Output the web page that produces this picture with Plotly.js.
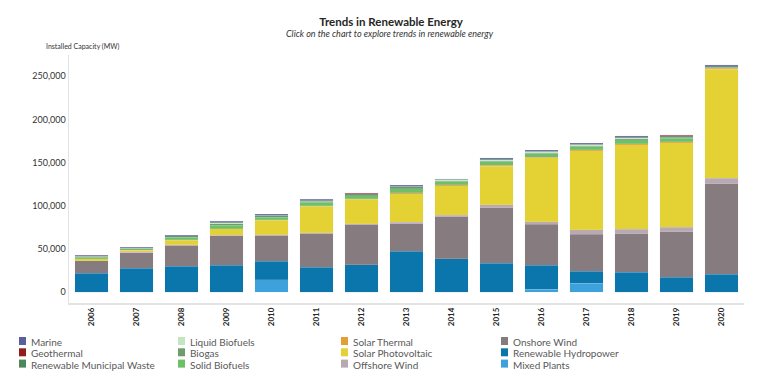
<!DOCTYPE html>
<html>
<head>
<meta charset="utf-8">
<script src="https://cdn.plot.ly/plotly-3.0.1.min.js"></script>
<style>html,body{margin:0;padding:0;background:#fff;}#chart{width:764px;height:389px;}</style>
</head>
<body>
<div id="chart"></div>
<script>
// ---- Data (MW) ----
const years = ['2006','2007','2008','2009','2010','2011','2012','2013','2014','2015','2016','2017','2018','2019','2020'];

const mixedPlants   = [0,0,0,0,14200,0,0,0,0,0,3500,10400,0,0,0];
const hydropower    = [22000,27800,30100,30800,21200,28900,31600,47000,38500,33600,27300,13400,22700,16900,20800];
const onshoreWind   = [14200,17700,23800,34300,30100,38600,46300,32400,49000,64300,47900,43300,44800,53200,104500];
const offshoreWind  = [300,500,600,800,800,1000,1200,1200,1300,3500,3000,5000,5400,5100,6600];
const solarPV       = [1800,2400,5600,7200,17100,31000,28400,33400,34500,44600,73600,91600,97600,97700,126200];
const solarThermal  = [200,200,400,500,600,700,800,900,900,1000,1000,1000,1100,1100,1200];
const solidBiofuels = [2000,1500,2700,4000,2500,3800,3500,4700,4000,4300,4300,4000,5000,4400,800];
const biogas        = [700,400,800,1800,600,900,800,1100,1000,1000,1000,1000,1200,1000,600];
const liquidBiofuels= [200,200,200,300,300,300,300,300,300,300,300,300,300,300,300];
const municipalWaste= [600,700,900,1200,1500,1200,1000,1400,1000,1200,1200,1300,1400,1200,1200];
const geothermal    = [300,200,300,300,300,300,300,300,300,700,200,200,200,700,200];
const marine        = [500,500,600,900,1100,900,700,1100,700,900,1000,1000,1200,600,1000];

const yTicks = [0,50000,100000,150000,200000,250000];

// stacking order bottom -> top
const series = [
  {name:'Mixed Plants', y:mixedPlants, color:'#3da2db'},
  {name:'Renewable Hydropower', y:hydropower, color:'#0a76ab'},
  {name:'Onshore Wind', y:onshoreWind, color:'#867b7f'},
  {name:'Offshore Wind', y:offshoreWind, color:'#b9a9b0'},
  {name:'Solar Photovoltaic', y:solarPV, color:'#e4d133'},
  {name:'Solar Thermal', y:solarThermal, color:'#e39e36'},
  {name:'Solid Biofuels', y:solidBiofuels, color:'#6dbf68'},
  {name:'Biogas', y:biogas, color:'#6e9c6b'},
  {name:'Liquid Biofuels', y:liquidBiofuels, color:'#c5e4c0'},
  {name:'Renewable Municipal Waste', y:municipalWaste, color:'#4e8759'},
  {name:'Geothermal', y:geothermal, color:'#951c1c'},
  {name:'Marine', y:marine, color:'#5a5f9c'}
];

// legend layout (column-wise, as in reference)
const legendColumns = [
  ['Marine','Geothermal','Renewable Municipal Waste'],
  ['Liquid Biofuels','Biogas','Solid Biofuels'],
  ['Solar Thermal','Solar Photovoltaic','Offshore Wind'],
  ['Onshore Wind','Renewable Hydropower','Mixed Plants']
];

const FONT = 'Lato, "Open Sans", sans-serif';

const traces = series.map(s => ({
  type:'bar', name:s.name, x:years, y:s.y,
  marker:{color:s.color, line:{color:'rgba(225,220,238,0.6)', width:0.3}},
  showlegend:false,
  hovertemplate:'%{x}<br>'+s.name+': %{y:,} MW<extra></extra>'
}));

// plot area in pixels
const W=764, H=389, L=69, R=20, T=55, B=86;
const pw = W-L-R, ph = H-T-B;
const px2x = p => (p-L)/pw;
const py2y = p => (H-B-p)/ph;

const colX = [19,178,341,501];
const rowY = [341,352.3,363.6];
const shapes = [];
const annotations = [];
legendColumns.forEach((col,ci)=>{
  col.forEach((nm,ri)=>{
    const s = series.find(d=>d.name===nm);
    shapes.push({type:'rect', xref:'paper', yref:'paper',
      x0:px2x(colX[ci]), x1:px2x(colX[ci]+7),
      y0:py2y(rowY[ri]+4), y1:py2y(rowY[ri]-4),
      fillcolor:s.color, line:{width:0}});
    annotations.push({xref:'paper', yref:'paper', x:px2x(colX[ci]+10), y:py2y(rowY[ri]+1),
      xanchor:'left', yanchor:'middle', showarrow:false, text:nm,
      font:{family:FONT, size:10, color:'#595959'}});
  });
});

annotations.push({xref:'paper', yref:'paper', x:px2x(390), y:py2y(33),
  xanchor:'center', yanchor:'middle', showarrow:false,
  text:'<i>Click on the chart to explore trends in renewable energy</i>',
  font:{family:FONT, size:9, color:'#333'}});
annotations.push({xref:'paper', yref:'paper', x:px2x(44), y:py2y(46.5),
  xanchor:'left', yanchor:'middle', showarrow:false,
  text:'Installed Capacity (MW)',
  font:{family:FONT, size:7, color:'#333'}});

const layout = {
  width:W, height:H,
  margin:{l:L, r:R, t:T, b:B, pad:0},
  paper_bgcolor:'#fff', plot_bgcolor:'#fff',
  barmode:'stack', bargap:0.245,
  title:{text:'<b>Trends in Renewable Energy</b>', x:391/W, xanchor:'center',
         y:1-22/H, yanchor:'middle', font:{family:FONT, size:11.5, color:'#262626'}},
  xaxis:{type:'category', tickangle:-90, showgrid:false, zeroline:false,
         showline:true, linecolor:'#e3e3e3', linewidth:1.5, ticks:'',
         tickfont:{family:FONT, size:8, color:'#262626', weight:'bold'}},
  yaxis:{range:[-12700,274600], tickvals:yTicks, tickformat:',d', showgrid:false,
         zeroline:false, showline:true, linecolor:'#e3e3e3', linewidth:1.5, ticks:'',
         tickfont:{family:FONT, size:9, color:'#333'}},
  shapes:shapes, annotations:annotations,
  showlegend:false
};

Plotly.newPlot('chart', traces, layout, {displayModeBar:false, staticPlot:true});
</script>
</body>
</html>
